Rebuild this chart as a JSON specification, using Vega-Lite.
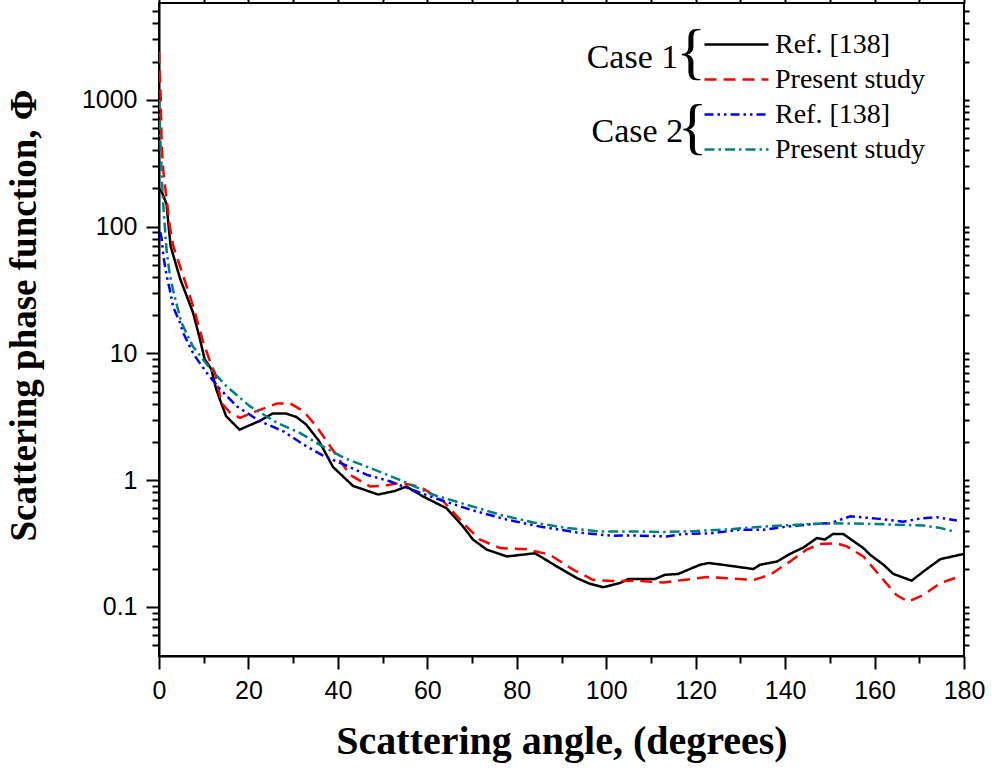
{
  "$schema": "https://vega.github.io/schema/vega-lite/v6.json",
  "width": 805,
  "height": 653,
  "autosize": {"type": "none"},
  "padding": {"left": 159, "top": 3, "right": 28, "bottom": 112},
  "background": "white",
  "config": {
    "view": {"stroke": "black", "strokeWidth": 2},
    "axis": {
      "grid": false,
      "domainColor": "black",
      "domainWidth": 2,
      "tickColor": "black",
      "tickWidth": 2,
      "labelColor": "black",
      "labelFont": "Liberation Sans",
      "labelFontSize": 25,
      "titleFont": "Liberation Serif",
      "titleFontWeight": "bold",
      "titleColor": "black"
    },
    "legend": {
      "orient": "none",
      "legendX": 560,
      "legendY": 24,
      "padding": 0,
      "symbolType": "M-2,0H2",
      "symbolSize": 1024,
      "symbolStrokeWidth": 2.5,
      "labelFont": "Liberation Serif",
      "labelFontSize": 28,
      "labelColor": "black",
      "labelOffset": 21,
      "rowPadding": 3,
      "labelLimit": 400
    }
  },
  "datasets": {
    "curves": [
      {"s": "A", "angle": 0, "phi": 200},
      {"s": "A", "angle": 0.7, "phi": 185},
      {"s": "A", "angle": 1.7, "phi": 150},
      {"s": "A", "angle": 2.1, "phi": 105},
      {"s": "A", "angle": 2.6, "phi": 70},
      {"s": "A", "angle": 4.7, "phi": 39},
      {"s": "A", "angle": 7.6, "phi": 21},
      {"s": "A", "angle": 9.1, "phi": 13.2},
      {"s": "A", "angle": 10.2, "phi": 9.0},
      {"s": "A", "angle": 11.7, "phi": 7.5},
      {"s": "A", "angle": 12.8, "phi": 5.2},
      {"s": "A", "angle": 13.9, "phi": 4.07},
      {"s": "A", "angle": 15.0, "phi": 3.2},
      {"s": "A", "angle": 18.0, "phi": 2.5},
      {"s": "A", "angle": 22.4, "phi": 2.92},
      {"s": "A", "angle": 25.4, "phi": 3.35},
      {"s": "A", "angle": 28.4, "phi": 3.35},
      {"s": "A", "angle": 30.7, "phi": 3.15},
      {"s": "A", "angle": 32.9, "phi": 2.75},
      {"s": "A", "angle": 35.8, "phi": 2.03},
      {"s": "A", "angle": 38.9, "phi": 1.27},
      {"s": "A", "angle": 43.4, "phi": 0.9},
      {"s": "A", "angle": 49.0, "phi": 0.77},
      {"s": "A", "angle": 52.7, "phi": 0.82},
      {"s": "A", "angle": 55.3, "phi": 0.89},
      {"s": "A", "angle": 59.0, "phi": 0.745},
      {"s": "A", "angle": 64.3, "phi": 0.6},
      {"s": "A", "angle": 68.0, "phi": 0.43},
      {"s": "A", "angle": 70.2, "phi": 0.34},
      {"s": "A", "angle": 73.3, "phi": 0.283},
      {"s": "A", "angle": 77.8, "phi": 0.25},
      {"s": "A", "angle": 84.1, "phi": 0.265},
      {"s": "A", "angle": 89.0, "phi": 0.208},
      {"s": "A", "angle": 93.4, "phi": 0.169},
      {"s": "A", "angle": 96.4, "phi": 0.152},
      {"s": "A", "angle": 99.3, "phi": 0.143},
      {"s": "A", "angle": 103.0, "phi": 0.154},
      {"s": "A", "angle": 105.0, "phi": 0.166},
      {"s": "A", "angle": 110.9, "phi": 0.166},
      {"s": "A", "angle": 113.1, "phi": 0.179},
      {"s": "A", "angle": 116.1, "phi": 0.182},
      {"s": "A", "angle": 118.7, "phi": 0.199},
      {"s": "A", "angle": 121.0, "phi": 0.215},
      {"s": "A", "angle": 122.9, "phi": 0.222},
      {"s": "A", "angle": 127.7, "phi": 0.211},
      {"s": "A", "angle": 132.9, "phi": 0.199},
      {"s": "A", "angle": 134.4, "phi": 0.215},
      {"s": "A", "angle": 138.2, "phi": 0.228},
      {"s": "A", "angle": 141.1, "phi": 0.262},
      {"s": "A", "angle": 144.1, "phi": 0.294},
      {"s": "A", "angle": 147.1, "phi": 0.349},
      {"s": "A", "angle": 148.9, "phi": 0.34},
      {"s": "A", "angle": 150.7, "phi": 0.376},
      {"s": "A", "angle": 153.0, "phi": 0.376},
      {"s": "A", "angle": 157.5, "phi": 0.291},
      {"s": "A", "angle": 159.0, "phi": 0.258},
      {"s": "A", "angle": 162.0, "phi": 0.215},
      {"s": "A", "angle": 164.2, "phi": 0.182},
      {"s": "A", "angle": 168.3, "phi": 0.161},
      {"s": "A", "angle": 170.9, "phi": 0.19},
      {"s": "A", "angle": 174.7, "phi": 0.238},
      {"s": "A", "angle": 180.0, "phi": 0.262},

      {"s": "B", "angle": 0, "phi": 2400},
      {"s": "B", "angle": 0.2, "phi": 1500},
      {"s": "B", "angle": 0.4, "phi": 1000},
      {"s": "B", "angle": 0.6, "phi": 435},
      {"s": "B", "angle": 1.0, "phi": 268},
      {"s": "B", "angle": 1.7, "phi": 165},
      {"s": "B", "angle": 2.4, "phi": 101},
      {"s": "B", "angle": 3.2, "phi": 70},
      {"s": "B", "angle": 5.4, "phi": 41},
      {"s": "B", "angle": 7.6, "phi": 23.7},
      {"s": "B", "angle": 9.9, "phi": 12.2},
      {"s": "B", "angle": 11.8, "phi": 7.9},
      {"s": "B", "angle": 12.5, "phi": 7.0},
      {"s": "B", "angle": 14.0, "phi": 4.07},
      {"s": "B", "angle": 15.9, "phi": 3.4},
      {"s": "B", "angle": 18.1, "phi": 3.1},
      {"s": "B", "angle": 21.8, "phi": 3.5},
      {"s": "B", "angle": 26.4, "phi": 4.03},
      {"s": "B", "angle": 29.3, "phi": 4.03},
      {"s": "B", "angle": 32.3, "phi": 3.5},
      {"s": "B", "angle": 35.2, "phi": 2.66},
      {"s": "B", "angle": 38.9, "phi": 1.72},
      {"s": "B", "angle": 42.7, "phi": 1.1},
      {"s": "B", "angle": 47.2, "phi": 0.89},
      {"s": "B", "angle": 50.9, "phi": 0.91},
      {"s": "B", "angle": 53.9, "phi": 0.95},
      {"s": "B", "angle": 58.4, "phi": 0.89},
      {"s": "B", "angle": 63.6, "phi": 0.68},
      {"s": "B", "angle": 68.0, "phi": 0.458},
      {"s": "B", "angle": 71.7, "phi": 0.34},
      {"s": "B", "angle": 76.3, "phi": 0.291},
      {"s": "B", "angle": 82.2, "phi": 0.285},
      {"s": "B", "angle": 87.4, "phi": 0.258},
      {"s": "B", "angle": 92.7, "phi": 0.196},
      {"s": "B", "angle": 97.1, "phi": 0.163},
      {"s": "B", "angle": 102.3, "phi": 0.16},
      {"s": "B", "angle": 106.9, "phi": 0.161},
      {"s": "B", "angle": 112.8, "phi": 0.156},
      {"s": "B", "angle": 117.2, "phi": 0.163},
      {"s": "B", "angle": 122.5, "phi": 0.172},
      {"s": "B", "angle": 127.7, "phi": 0.168},
      {"s": "B", "angle": 132.9, "phi": 0.163},
      {"s": "B", "angle": 136.6, "phi": 0.179},
      {"s": "B", "angle": 141.1, "phi": 0.228},
      {"s": "B", "angle": 144.8, "phi": 0.283},
      {"s": "B", "angle": 147.8, "phi": 0.313},
      {"s": "B", "angle": 151.5, "phi": 0.318},
      {"s": "B", "angle": 153.8, "phi": 0.3},
      {"s": "B", "angle": 157.5, "phi": 0.25},
      {"s": "B", "angle": 162.0, "phi": 0.163},
      {"s": "B", "angle": 164.9, "phi": 0.124},
      {"s": "B", "angle": 167.5, "phi": 0.11},
      {"s": "B", "angle": 170.9, "phi": 0.124},
      {"s": "B", "angle": 174.7, "phi": 0.154},
      {"s": "B", "angle": 178.0, "phi": 0.169},

      {"s": "C", "angle": 0.3, "phi": 90},
      {"s": "C", "angle": 0.6, "phi": 80},
      {"s": "C", "angle": 1.0, "phi": 58},
      {"s": "C", "angle": 1.7, "phi": 41},
      {"s": "C", "angle": 2.4, "phi": 32},
      {"s": "C", "angle": 3.2, "phi": 23},
      {"s": "C", "angle": 4.7, "phi": 17.5},
      {"s": "C", "angle": 5.4, "phi": 14.5},
      {"s": "C", "angle": 7.6, "phi": 10.1},
      {"s": "C", "angle": 8.5, "phi": 9.0},
      {"s": "C", "angle": 10.7, "phi": 7.0},
      {"s": "C", "angle": 13.7, "phi": 5.2},
      {"s": "C", "angle": 17.4, "phi": 3.83},
      {"s": "C", "angle": 22.5, "phi": 2.92},
      {"s": "C", "angle": 27.8, "phi": 2.43},
      {"s": "C", "angle": 32.4, "phi": 1.9},
      {"s": "C", "angle": 36.7, "phi": 1.56},
      {"s": "C", "angle": 41.3, "phi": 1.33},
      {"s": "C", "angle": 46.5, "phi": 1.1},
      {"s": "C", "angle": 51.6, "phi": 0.98},
      {"s": "C", "angle": 56.1, "phi": 0.85},
      {"s": "C", "angle": 62.8, "phi": 0.7},
      {"s": "C", "angle": 70.2, "phi": 0.577},
      {"s": "C", "angle": 77.8, "phi": 0.488},
      {"s": "C", "angle": 85.2, "phi": 0.43},
      {"s": "C", "angle": 93.4, "phi": 0.387},
      {"s": "C", "angle": 101.3, "phi": 0.364},
      {"s": "C", "angle": 106.1, "phi": 0.366},
      {"s": "C", "angle": 113.5, "phi": 0.36},
      {"s": "C", "angle": 117.2, "phi": 0.376},
      {"s": "C", "angle": 123.1, "phi": 0.38},
      {"s": "C", "angle": 129.9, "phi": 0.406},
      {"s": "C", "angle": 135.1, "phi": 0.406},
      {"s": "C", "angle": 140.4, "phi": 0.43},
      {"s": "C", "angle": 147.1, "phi": 0.453},
      {"s": "C", "angle": 150.0, "phi": 0.457},
      {"s": "C", "angle": 154.6, "phi": 0.518},
      {"s": "C", "angle": 160.5, "phi": 0.497},
      {"s": "C", "angle": 166.4, "phi": 0.47},
      {"s": "C", "angle": 170.1, "phi": 0.497},
      {"s": "C", "angle": 173.9, "phi": 0.51},
      {"s": "C", "angle": 178.4, "phi": 0.48},

      {"s": "D", "angle": 0, "phi": 1000},
      {"s": "D", "angle": 0.3, "phi": 500},
      {"s": "D", "angle": 0.6, "phi": 250},
      {"s": "D", "angle": 1.0, "phi": 140},
      {"s": "D", "angle": 1.4, "phi": 90},
      {"s": "D", "angle": 1.7, "phi": 65},
      {"s": "D", "angle": 2.4, "phi": 42},
      {"s": "D", "angle": 3.2, "phi": 31},
      {"s": "D", "angle": 5.0, "phi": 17.5},
      {"s": "D", "angle": 7.6, "phi": 11.3},
      {"s": "D", "angle": 9.2, "phi": 9.6},
      {"s": "D", "angle": 11.4, "phi": 7.6},
      {"s": "D", "angle": 15.1, "phi": 5.5},
      {"s": "D", "angle": 20.3, "phi": 3.83},
      {"s": "D", "angle": 26.4, "phi": 2.83},
      {"s": "D", "angle": 31.5, "phi": 2.36},
      {"s": "D", "angle": 35.2, "phi": 1.97},
      {"s": "D", "angle": 41.3, "phi": 1.5},
      {"s": "D", "angle": 48.7, "phi": 1.19},
      {"s": "D", "angle": 54.6, "phi": 0.98},
      {"s": "D", "angle": 61.1, "phi": 0.77},
      {"s": "D", "angle": 68.8, "phi": 0.64},
      {"s": "D", "angle": 76.3, "phi": 0.533},
      {"s": "D", "angle": 83.7, "phi": 0.463},
      {"s": "D", "angle": 91.2, "phi": 0.419},
      {"s": "D", "angle": 98.6, "phi": 0.394},
      {"s": "D", "angle": 105.3, "phi": 0.394},
      {"s": "D", "angle": 112.8, "phi": 0.39},
      {"s": "D", "angle": 120.2, "phi": 0.397},
      {"s": "D", "angle": 127.7, "phi": 0.41},
      {"s": "D", "angle": 135.1, "phi": 0.43},
      {"s": "D", "angle": 142.6, "phi": 0.445},
      {"s": "D", "angle": 150.0, "phi": 0.457},
      {"s": "D", "angle": 157.5, "phi": 0.453},
      {"s": "D", "angle": 164.9, "phi": 0.445},
      {"s": "D", "angle": 170.9, "phi": 0.438},
      {"s": "D", "angle": 174.7, "phi": 0.42},
      {"s": "D", "angle": 178.0, "phi": 0.39}
    ]
  },
  "layer": [
    {
      "data": {"name": "curves"},
      "mark": {"type": "line", "strokeWidth": 2.5, "clip": true},
      "encoding": {
        "x": {
          "field": "angle", "type": "quantitative",
          "scale": {"domain": [0, 180], "nice": false},
          "axis": {
            "orient": "bottom",
            "values": [0, 20, 40, 60, 80, 100, 120, 140, 160, 180],
            "tickSize": 13,
            "labelPadding": 9,
            "labelFlush": false,
            "title": "Scattering angle, (degrees)",
            "titleFontSize": 40,
            "titlePadding": 18
          }
        },
        "y": {
          "field": "phi", "type": "quantitative",
          "scale": {"type": "log", "domain": [0.041, 5800], "nice": false},
          "axis": {
            "orient": "left",
            "values": [0.1, 1, 10, 100, 1000],
            "format": "~g",
            "tickSize": 13,
            "labelPadding": 9,
            "labelFlush": false,
            "title": "Scattering phase function, Φ",
            "titleFontSize": 37,
            "titleAngle": 270,
            "titleBaseline": "alphabetic",
            "titleX": -124,
            "titleY": 312
          }
        },
        "color": {
          "field": "s", "type": "nominal",
          "scale": {"domain": ["A", "B", "C", "D"], "range": ["#000000", "#ff0000", "#0000ff", "#008080"]},
          "legend": {
            "title": null,
            "labelExpr": "(datum.value == 'A' || datum.value == 'C') ? 'Ref. [138]' : 'Present study'"
          }
        },
        "strokeDash": {
          "field": "s", "type": "nominal",
          "scale": {"domain": ["A", "B", "C", "D"], "range": [[1, 0], [12, 7], [9, 4, 2.5, 4, 2.5, 4], [10, 4, 2.5, 4]]},
          "legend": {
            "title": null,
            "labelExpr": "(datum.value == 'A' || datum.value == 'C') ? 'Ref. [138]' : 'Present study'"
          }
        }
      }
    },
    {
      "data": {"values": [
        {"label": "Case 1", "angle": 116.1, "phi": 1789},
        {"label": "Case 2", "angle": 117.2, "phi": 466}
      ]},
      "mark": {"type": "text", "font": "Liberation Serif", "fontSize": 34, "align": "right", "baseline": "alphabetic", "color": "black"},
      "encoding": {
        "x": {
          "field": "angle", "type": "quantitative",
          "axis": {
            "orient": "bottom",
            "values": [10, 30, 50, 70, 90, 110, 130, 150, 170],
            "tickSize": 7,
            "labels": false,
            "domain": false,
            "title": null
          }
        },
        "y": {
          "field": "phi", "type": "quantitative",
          "axis": {
            "orient": "left",
            "values": [0.05, 0.06, 0.07, 0.08, 0.09, 0.2, 0.3, 0.4, 0.5, 0.6, 0.7, 0.8, 0.9, 2, 3, 4, 5, 6, 7, 8, 9, 20, 30, 40, 50, 60, 70, 80, 90, 200, 300, 400, 500, 600, 700, 800, 900, 2000, 3000, 4000, 5000],
            "tickSize": 7,
            "labels": false,
            "domain": false,
            "title": null
          }
        },
        "text": {"field": "label"}
      }
    },
    {
      "data": {"values": [
        {"label": "{", "angle": 119.0, "phi": 2328},
        {"label": "{", "angle": 119.3, "phi": 604}
      ]},
      "mark": {"type": "text", "font": "Liberation Serif", "fontSize": 62, "align": "center", "baseline": "middle", "color": "black"},
      "encoding": {
        "x": {
          "field": "angle", "type": "quantitative",
          "axis": {
            "orient": "top",
            "values": [0, 10, 20, 30, 40, 50, 60, 70, 80, 90, 100, 110, 120, 130, 140, 150, 160, 170, 180],
            "tickSize": 5,
            "labels": false,
            "domain": false,
            "title": null
          }
        },
        "y": {
          "field": "phi", "type": "quantitative",
          "axis": {
            "orient": "right",
            "values": [0.05, 0.06, 0.07, 0.08, 0.09, 0.1, 0.2, 0.3, 0.4, 0.5, 0.6, 0.7, 0.8, 0.9, 1, 2, 3, 4, 5, 6, 7, 8, 9, 10, 20, 30, 40, 50, 60, 70, 80, 90, 100, 200, 300, 400, 500, 600, 700, 800, 900, 1000, 2000, 3000, 4000, 5000],
            "tickSize": 5,
            "labels": false,
            "domain": false,
            "title": null
          }
        },
        "text": {"field": "label"}
      }
    }
  ],
  "resolve": {"axis": {"x": "independent", "y": "independent"}}
}
